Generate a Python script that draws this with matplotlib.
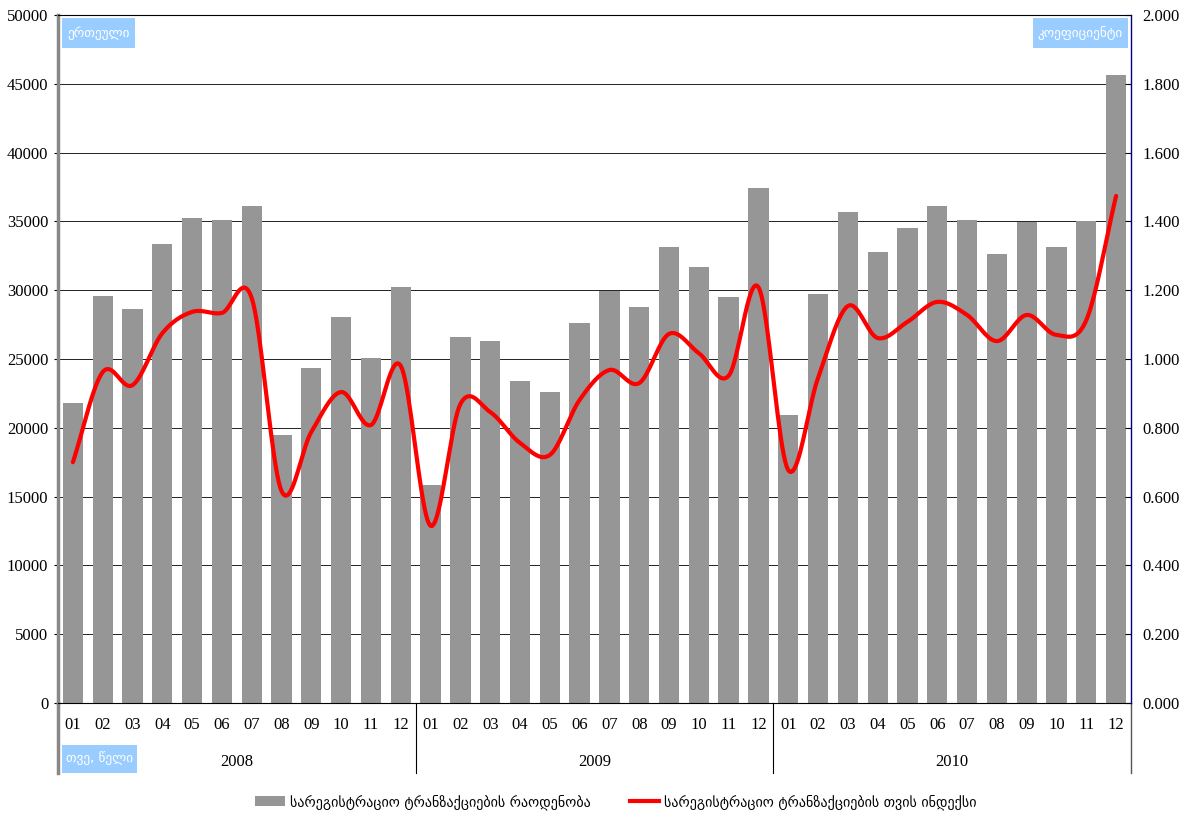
import numpy as np
import matplotlib
matplotlib.use("Agg")
import matplotlib.pyplot as plt
from matplotlib.lines import Line2D
from matplotlib.patches import Patch, Rectangle

months = ["01", "02", "03", "04", "05", "06", "07", "08", "09", "10", "11", "12"]
years = ["2008", "2009", "2010"]
counts = [21800, 29600, 28600, 33350, 35250, 35100, 36100, 19480, 24350, 28050, 25070, 30230,
          15840, 26600, 26300, 23400, 22600, 27620, 29940, 28780, 33140, 31690, 29500, 37430,
          20930, 29720, 35680, 32780, 34520, 36120, 35100, 32630, 34960, 33140, 35030, 45640]
index = [0.700, 0.962, 0.924, 1.075, 1.137, 1.134, 1.177, 0.616, 0.788, 0.904, 0.808, 0.980,
         0.515, 0.869, 0.846, 0.756, 0.721, 0.881, 0.968, 0.930, 1.073, 1.017, 0.951, 1.209,
         0.677, 0.945, 1.154, 1.061, 1.108, 1.166, 1.128, 1.052, 1.128, 1.070, 1.113, 1.474]
left_label = "ერთეული"
right_label = "კოეფიციენტი"
x_label = "თვე, წელი"
legend_bar = "სარეგისტრაციო ტრანზაქციების რაოდენობა"
legend_line = "სარეგისტრაციო ტრანზაქციების თვის ინდექსი"

SERIF = ["Liberation Serif", "DejaVu Serif"]
GEO = ["DejaVu Sans"]
W, H = 1187, 816

def smooth(xs, ys, n=20):
    xs = np.asarray(xs, float); ys = np.asarray(ys, float)
    px = np.concatenate([[2*xs[0]-xs[1]], xs, [2*xs[-1]-xs[-2]]])
    py = np.concatenate([[2*ys[0]-ys[1]], ys, [2*ys[-1]-ys[-2]]])
    ox, oy = [], []
    t = np.linspace(0, 1, n, endpoint=False)
    for i in range(1, len(px)-2):
        for arr, out in ((px, ox), (py, oy)):
            p0, p1, p2, p3 = arr[i-1], arr[i], arr[i+1], arr[i+2]
            out.extend(0.5*((2*p1) + (-p0+p2)*t + (2*p0-5*p1+4*p2-p3)*t**2 + (-p0+3*p1-3*p2+p3)*t**3))
    ox.append(xs[-1]); oy.append(ys[-1])
    return np.array(ox), np.array(oy)

fig = plt.figure(figsize=(W/100, H/100), dpi=100)
ax = fig.add_axes([58/W, 113/H, 1073/W, 688/H])
n = len(counts)
x = np.arange(n)
ax.set_axisbelow(True)
ax.bar(x, counts, width=0.68, color="#969696", zorder=2)
ax.set_xlim(-0.5, n-0.5)
ax.set_ylim(0, 50000)
ax.set_yticks(np.arange(0, 50001, 5000))
ax.yaxis.grid(True, color="#222222", linewidth=0.7)
ax.set_xticks(x)
ax.set_xticklabels(months*3, fontfamily=SERIF, fontsize=12)
ax.tick_params(axis="x", length=0, pad=10)
ax.tick_params(axis="y", length=3, direction="out", pad=4)
for lab in ax.get_yticklabels():
    lab.set_fontfamily(SERIF); lab.set_fontsize(12)

ax.spines["top"].set_color("black"); ax.spines["top"].set_linewidth(0.8)
ax.spines["left"].set_color("#888888"); ax.spines["left"].set_linewidth(2.5)
ax.spines["bottom"].set_color("black"); ax.spines["bottom"].set_linewidth(0.8)
ax.spines["right"].set_visible(False)

ax2 = ax.twinx()
ax2.set_ylim(0, 2.0)
ax2.set_yticks(np.arange(0, 2.001, 0.2))
ax2.set_yticklabels([f"{v:.3f}" for v in np.arange(0, 2.001, 0.2)], fontfamily=SERIF, fontsize=12)
ax2.tick_params(axis="y", length=4, direction="in", pad=8)
ax2.spines["right"].set_color("#000080"); ax2.spines["right"].set_linewidth(1.0)
for s in ["top", "left", "bottom"]:
    ax2.spines[s].set_visible(False)
sx, sy = smooth(x, index)
ax2.plot(sx, sy, color="#ff0000", linewidth=3, solid_capstyle="round", zorder=5)

# separators below the axis
trans = ax.get_xaxis_transform()
sep_bottom = -70/688
for xs, col, lw in [(-0.5, "#888888", 2.5), (11.5, "black", 0.8), (23.5, "black", 0.8), (35.5, "#555555", 1.0)]:
    ax.add_line(Line2D([xs, xs], [0, sep_bottom], transform=trans, color=col, linewidth=lw, clip_on=False))
for i, yr in enumerate(years):
    ax.text(i*12+5.5, -59/688, yr, transform=trans, ha="center", va="center",
            fontfamily=SERIF, fontsize=12)

def label_box(x0, y0, x1, y1, txt):
    fig.patches.append(Rectangle((x0/W, 1-y1/H), (x1-x0)/W, (y1-y0)/H, transform=fig.transFigure,
                                 facecolor="#99ccff", edgecolor="none", zorder=10))
    fig.text((x0+x1)/2/W, 1-(y0+y1)/2/H, txt, ha="center", va="center", color="white",
             fontfamily=GEO, fontsize=9.5, zorder=11)

label_box(62, 18, 135, 48, left_label)
label_box(1033, 18, 1128, 48, right_label)
label_box(62, 745, 137, 773, x_label)

handles = [Patch(facecolor="#969696", edgecolor="none"),
           Line2D([], [], color="#ff0000", linewidth=3)]
leg = fig.legend(handles, [legend_bar, legend_line], loc="center", bbox_to_anchor=(0.519, 1-802/H),
                 ncol=2, frameon=False, prop={"family": GEO, "size": 10.2},
                 handlelength=2.1, handletextpad=0.35, columnspacing=2.75)
fig.savefig("out.png", dpi=100)
